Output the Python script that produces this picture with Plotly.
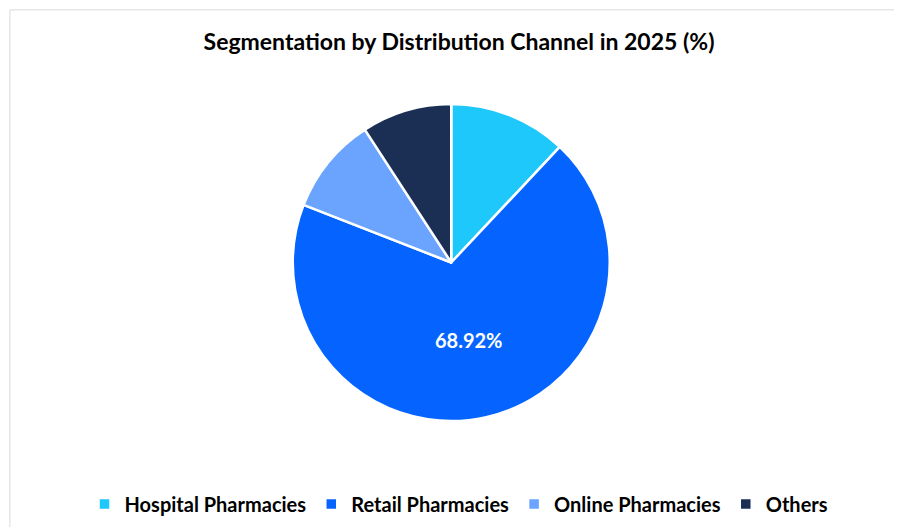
import plotly.graph_objects as go

channels = ["Hospital Pharmacies", "Retail Pharmacies", "Online Pharmacies", "Others"]
shares = [12.0, 68.92, 9.9, 9.18]
colors = ["#1ec8fa", "#0564ff", "#6aa4ff", "#1b2f55"]
labels_shown = ["", "<b>68.92%</b>", "", ""]

fig = go.Figure(go.Pie(
    labels=["<b>" + c + "</b>" for c in channels],
    values=shares,
    text=labels_shown,
    textinfo="text",
    textposition="inside",
    insidetextorientation="horizontal",
    textfont=dict(family="Lato", size=20, color="white"),
    marker=dict(colors=colors, line=dict(color="white", width=2.5)),
    sort=False,
    direction="clockwise",
    rotation=0,
    domain=dict(x=[0, 0.982], y=[0, 1]),
))

fig.update_layout(
    width=902, height=527,
    paper_bgcolor="white",
    title=dict(text="<b>Segmentation by Distribution Channel in 2025 (%)</b>",
               x=0.5, y=0.935, xanchor="center", yanchor="middle",
               font=dict(family="Lato", size=23, color="black")),
    font=dict(family="Lato", color="black"),
    margin=dict(l=20, r=20, t=96, b=112),
    legend=dict(orientation="h", x=0.5, xanchor="center", y=-0.2, yanchor="top",
                font=dict(family="Lato", size=20), itemwidth=30),
    shapes=[dict(type="rect", xref="paper", yref="paper", x0=-0.021, x1=1.0209,
                 y0=-0.345, y1=1.297, line=dict(color="#d9d9d9", width=1))],
)

fig.write_html("out.html")
